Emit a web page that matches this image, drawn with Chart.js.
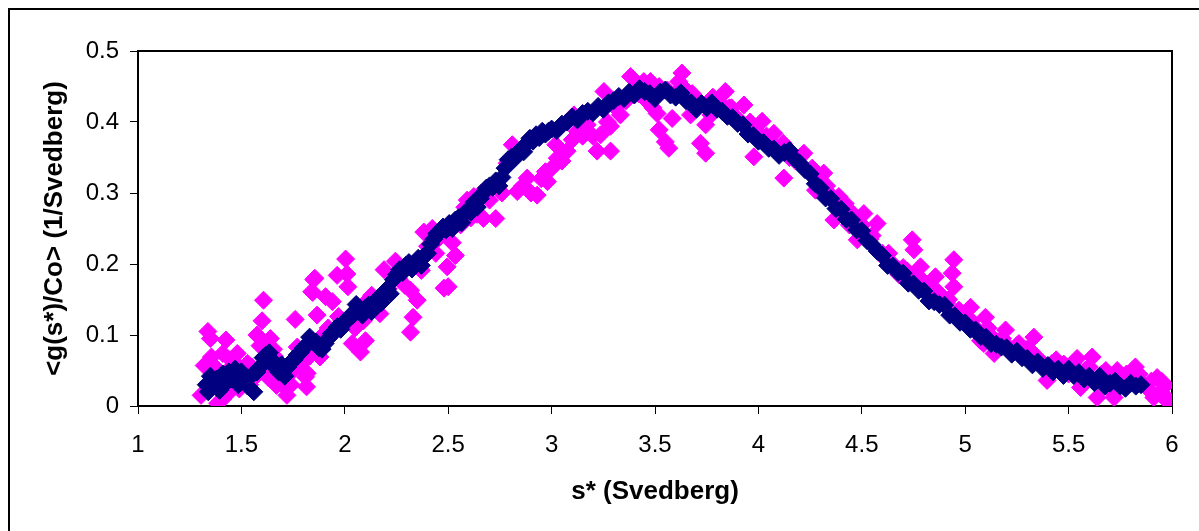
<!DOCTYPE html>
<html>
<head>
<meta charset="utf-8">
<title>g(s*) distribution</title>
<script src="https://cdn.jsdelivr.net/npm/chart.js@4.4.0/dist/chart.umd.min.js"></script>
<style>
    html, body { margin: 0; padding: 0; background: #fff; }
    #chart { display: block; }
</style>
</head>
<body>
<canvas id="chart" width="1199" height="531"></canvas>
<script>
// axis ticks
const xTicks = [1, 1.5, 2, 2.5, 3, 3.5, 4, 4.5, 5, 5.5, 6];
const yTicks = [0, 0.1, 0.2, 0.3, 0.4, 0.5];

// dark blue run
const navyS = [
    1.330, 1.340, 1.350, 1.365, 1.380, 1.395, 1.410, 1.425, 1.440, 1.455, 1.470, 1.485, 1.500, 1.515, 1.530, 1.545,
    1.560, 1.575, 1.590, 1.605, 1.620, 1.635, 1.650, 1.665, 1.680, 1.695, 1.710, 1.725, 1.740, 1.755, 1.770, 1.785,
    1.800, 1.815, 1.830, 1.845, 1.860, 1.875, 1.890, 1.905, 1.920, 1.935, 1.950, 1.965, 1.980, 1.995, 2.010, 2.025,
    2.040, 2.055, 2.070, 2.085, 2.100, 2.115, 2.130, 2.145, 2.160, 2.175, 2.190, 2.205, 2.220, 2.235, 2.250, 2.265,
    2.280, 2.295, 2.310, 2.325, 2.340, 2.355, 2.370, 2.385, 2.400, 2.415, 2.430, 2.445, 2.460, 2.475, 2.490, 2.505,
    2.520, 2.535, 2.550, 2.565, 2.580, 2.595, 2.610, 2.625, 2.640, 2.655, 2.670, 2.685, 2.700, 2.715, 2.730, 2.745,
    2.760, 2.775, 2.790, 2.805, 2.820, 2.835, 2.850, 2.865, 2.880, 2.895, 2.910, 2.925, 2.940, 2.955, 2.970, 2.985,
    3.000, 3.025, 3.050, 3.075, 3.100, 3.125, 3.150, 3.175, 3.200, 3.225, 3.250, 3.275, 3.300, 3.325, 3.350, 3.375,
    3.400, 3.425, 3.450, 3.475, 3.500, 3.525, 3.550, 3.575, 3.600, 3.625, 3.650, 3.675, 3.700, 3.725, 3.750, 3.775,
    3.800, 3.825, 3.850, 3.875, 3.900, 3.925, 3.950, 3.975, 4.000, 4.025, 4.050, 4.075, 4.100, 4.125, 4.150, 4.175,
    4.200, 4.225, 4.250, 4.275, 4.300, 4.325, 4.350, 4.375, 4.400, 4.425, 4.450, 4.475, 4.500, 4.525, 4.550, 4.575,
    4.600, 4.625, 4.650, 4.675, 4.700, 4.725, 4.750, 4.775, 4.800, 4.825, 4.850, 4.875, 4.900, 4.925, 4.950, 4.975,
    5.000, 5.025, 5.050, 5.075, 5.100, 5.125, 5.150, 5.175, 5.200, 5.225, 5.250, 5.275, 5.300, 5.325, 5.350, 5.375,
    5.400, 5.425, 5.450, 5.475, 5.500, 5.525, 5.550, 5.575, 5.600, 5.625, 5.650, 5.675, 5.700, 5.725, 5.750, 5.775,
    5.800, 5.825, 5.850
];
const navyG = [
    0.030, 0.020, 0.042, 0.028, 0.038, 0.022, 0.045, 0.032, 0.048, 0.038, 0.052, 0.030, 0.048, 0.040, 0.028, 0.042,
    0.020, 0.048, 0.055, 0.068, 0.072, 0.075, 0.058, 0.060, 0.048, 0.058, 0.042, 0.055, 0.062, 0.065, 0.072, 0.075,
    0.082, 0.085, 0.097, 0.092, 0.090, 0.082, 0.080, 0.088, 0.095, 0.102, 0.104, 0.112, 0.108, 0.118, 0.120, 0.127,
    0.128, 0.143, 0.135, 0.128, 0.138, 0.142, 0.133, 0.140, 0.152, 0.145, 0.158, 0.165, 0.158, 0.178, 0.185, 0.192,
    0.188, 0.198, 0.202, 0.193, 0.200, 0.208, 0.198, 0.212, 0.215, 0.228, 0.235, 0.243, 0.245, 0.252, 0.248, 0.257,
    0.250, 0.262, 0.265, 0.258, 0.272, 0.275, 0.273, 0.287, 0.280, 0.292, 0.300, 0.307, 0.310, 0.308, 0.317, 0.310,
    0.322, 0.335, 0.347, 0.350, 0.348, 0.357, 0.360, 0.358, 0.370, 0.377, 0.373, 0.382, 0.378, 0.387, 0.383, 0.387,
    0.390, 0.388, 0.397, 0.400, 0.407, 0.403, 0.412, 0.415, 0.413, 0.422, 0.418, 0.427, 0.430, 0.436, 0.433, 0.442,
    0.438, 0.447, 0.443, 0.440, 0.433, 0.442, 0.445, 0.438, 0.435, 0.441, 0.430, 0.427, 0.418, 0.426, 0.420, 0.427,
    0.418, 0.415, 0.408, 0.406, 0.398, 0.396, 0.383, 0.381, 0.373, 0.371, 0.363, 0.362, 0.353, 0.357, 0.360, 0.348,
    0.342, 0.333, 0.327, 0.313, 0.307, 0.293, 0.292, 0.278, 0.277, 0.263, 0.262, 0.248, 0.247, 0.233, 0.227, 0.218,
    0.212, 0.198, 0.197, 0.188, 0.187, 0.173, 0.172, 0.163, 0.162, 0.148, 0.147, 0.143, 0.142, 0.128, 0.127, 0.118,
    0.117, 0.108, 0.107, 0.098, 0.097, 0.088, 0.087, 0.083, 0.082, 0.073, 0.077, 0.068, 0.067, 0.058, 0.062, 0.053,
    0.057, 0.048, 0.052, 0.043, 0.052, 0.043, 0.047, 0.038, 0.042, 0.033, 0.042, 0.028, 0.032, 0.035, 0.028, 0.025,
    0.032, 0.028, 0.030
];

// magenta run
const pinkS = [
    1.305, 1.320, 1.338, 1.350, 1.355, 1.365, 1.375, 1.385, 1.395, 1.410, 1.410, 1.425, 1.435, 1.450, 1.465, 1.480,
    1.480, 1.490, 1.505, 1.520, 1.540, 1.550, 1.575, 1.590, 1.600, 1.607, 1.615, 1.630, 1.640, 1.655, 1.670, 1.690,
    1.705, 1.720, 1.740, 1.760, 1.770, 1.790, 1.810, 1.815, 1.818, 1.830, 1.840, 1.845, 1.850, 1.855, 1.866, 1.880,
    1.895, 1.907, 1.920, 1.940, 1.963, 1.970, 1.985, 2.004, 2.010, 2.015, 2.036, 2.050, 2.076, 2.090, 2.100, 2.115,
    2.130, 2.150, 2.170, 2.190, 2.210, 2.245, 2.260, 2.290, 2.318, 2.318, 2.330, 2.350, 2.370, 2.382, 2.400, 2.423,
    2.440, 2.480, 2.495, 2.500, 2.520, 2.535, 2.560, 2.592, 2.610, 2.624, 2.640, 2.670, 2.700, 2.730, 2.760, 2.785,
    2.810, 2.834, 2.860, 2.882, 2.900, 2.930, 2.950, 2.970, 2.980, 3.000, 3.020, 3.027, 3.050, 3.075, 3.100, 3.108,
    3.124, 3.150, 3.172, 3.200, 3.220, 3.237, 3.253, 3.270, 3.285, 3.285, 3.310, 3.333, 3.360, 3.382, 3.400, 3.420,
    3.446, 3.460, 3.478, 3.490, 3.510, 3.520, 3.550, 3.567, 3.583, 3.600, 3.615, 3.630, 3.650, 3.672, 3.700, 3.720,
    3.745, 3.745, 3.770, 3.800, 3.820, 3.840, 3.870, 3.900, 3.930, 3.950, 3.978, 4.000, 4.018, 4.050, 4.075, 4.100,
    4.123, 4.150, 4.180, 4.220, 4.250, 4.276, 4.300, 4.316, 4.340, 4.365, 4.389, 4.410, 4.440, 4.478, 4.500, 4.510,
    4.540, 4.574, 4.600, 4.620, 4.650, 4.680, 4.700, 4.744, 4.752, 4.784, 4.800, 4.830, 4.856, 4.880, 4.910, 4.937,
    4.945, 4.945, 4.970, 5.000, 5.026, 5.050, 5.074, 5.090, 5.098, 5.120, 5.140, 5.170, 5.195, 5.220, 5.250, 5.280,
    5.316, 5.332, 5.360, 5.396, 5.420, 5.450, 5.477, 5.500, 5.541, 5.558, 5.580, 5.614, 5.638, 5.660, 5.690, 5.720,
    5.735, 5.760, 5.790, 5.823, 5.850, 5.880, 5.912, 5.928, 5.945, 5.960, 5.968, 5.985, 6.000,
    1.450, 1.530, 1.580, 1.660, 1.700, 1.750, 2.450, 2.580, 2.660,
    3.520, 3.560, 3.680, 3.780, 3.860, 3.960, 4.040, 4.120, 4.200, 4.260, 4.330, 4.420, 4.460, 4.550, 4.630, 4.660,
    4.720, 4.770, 4.820, 4.870, 4.920, 5.030, 5.110, 5.180, 5.260, 5.300, 5.340, 5.440, 5.520, 5.600, 5.680, 5.710,
    5.780, 5.840, 5.900, 5.950
];
const pinkG = [
    0.015, 0.057, 0.105, 0.095, 0.069, 0.057, 0.030, 0.004, 0.045, 0.010, 0.074, 0.093, 0.050, 0.022, 0.060, 0.074,
    0.057, 0.024, 0.035, 0.050, 0.030, 0.055, 0.100, 0.085, 0.120, 0.149, 0.060, 0.040, 0.095, 0.080, 0.029, 0.050,
    0.040, 0.015, 0.030, 0.122, 0.083, 0.060, 0.041, 0.027, 0.046, 0.070, 0.161, 0.160, 0.178, 0.180, 0.128, 0.069,
    0.100, 0.154, 0.110, 0.147, 0.184, 0.126, 0.120, 0.207, 0.186, 0.168, 0.088, 0.110, 0.076, 0.120, 0.092, 0.150,
    0.156, 0.140, 0.130, 0.192, 0.165, 0.204, 0.180, 0.170, 0.163, 0.104, 0.125, 0.149, 0.191, 0.245, 0.225, 0.250,
    0.215, 0.166, 0.196, 0.168, 0.230, 0.212, 0.255, 0.290, 0.265, 0.295, 0.270, 0.264, 0.290, 0.264, 0.300, 0.342,
    0.368, 0.302, 0.310, 0.321, 0.300, 0.297, 0.320, 0.330, 0.316, 0.335, 0.368, 0.349, 0.345, 0.359, 0.375, 0.410,
    0.387, 0.380, 0.396, 0.380, 0.359, 0.382, 0.443, 0.400, 0.359, 0.394, 0.420, 0.410, 0.430, 0.464, 0.445, 0.440,
    0.457, 0.430, 0.457, 0.420, 0.412, 0.389, 0.372, 0.363, 0.405, 0.440, 0.457, 0.469, 0.445, 0.410, 0.430, 0.370,
    0.356, 0.396, 0.410, 0.430, 0.425, 0.443, 0.420, 0.405, 0.424, 0.390, 0.351, 0.385, 0.401, 0.375, 0.384, 0.360,
    0.321, 0.350, 0.345, 0.356, 0.330, 0.304, 0.315, 0.328, 0.300, 0.262, 0.295, 0.270, 0.255, 0.234, 0.255, 0.271,
    0.235, 0.257, 0.215, 0.205, 0.200, 0.185, 0.195, 0.234, 0.220, 0.196, 0.175, 0.165, 0.182, 0.150, 0.145, 0.187,
    0.206, 0.168, 0.135, 0.125, 0.139, 0.110, 0.092, 0.088, 0.125, 0.100, 0.074, 0.090, 0.107, 0.080, 0.085, 0.070,
    0.078, 0.097, 0.065, 0.036, 0.060, 0.055, 0.059, 0.045, 0.067, 0.026, 0.050, 0.069, 0.012, 0.045, 0.040, 0.012,
    0.050, 0.030, 0.040, 0.055, 0.035, 0.025, 0.012, 0.040, 0.020, 0.012, 0.029, 0.008, 0.005,
    0.065, 0.060, 0.045, 0.070, 0.030, 0.050, 0.235, 0.280, 0.300,
    0.450, 0.445, 0.440, 0.435, 0.420, 0.400, 0.380, 0.370, 0.350, 0.335, 0.310, 0.285, 0.270, 0.240, 0.215, 0.195,
    0.190, 0.180, 0.170, 0.160, 0.150, 0.120, 0.110, 0.095, 0.088, 0.080, 0.070, 0.065, 0.060, 0.055, 0.050, 0.020,
    0.045, 0.045, 0.035, 0.035
];

const toPoints = (xs, ys) => xs.map((x, i) => ({ x: x, y: ys[i] }));

const FONT = '"Liberation Sans", Arial, sans-serif';

// white page, outer frame and plot box
const framePlugin = {
    id: 'frame',
    beforeDraw(chart) {
        const ctx = chart.ctx;
        ctx.save();
        ctx.fillStyle = '#fff';
        ctx.fillRect(0, 0, chart.width, chart.height);
        ctx.strokeStyle = '#000';
        ctx.lineWidth = 2;
        ctx.strokeRect(9, 9, chart.width + 20, chart.height + 20);
        ctx.restore();
    },
    beforeDatasetsDraw(chart) {
        const { left, top, right, bottom } = chart.chartArea;
        const ctx = chart.ctx;
        ctx.save();
        ctx.strokeStyle = '#000';
        ctx.lineWidth = 2;
        ctx.beginPath();
        ctx.moveTo(left, top);
        ctx.lineTo(right, top);
        ctx.lineTo(right, bottom);
        ctx.stroke();
        ctx.restore();
    }
};

const axisTicks = (values) => (scale) => {
    scale.ticks = values.map(v => ({ value: v }));
};

const markerStyle = (color) => ({
    pointStyle: 'rectRot',
    pointRadius: 9,
    borderWidth: 1,
    backgroundColor: color,
    borderColor: color
});

new Chart(document.getElementById('chart'), {
    type: 'scatter',
    data: {
        datasets: [
            Object.assign({ label: 'navy', data: toPoints(navyS, navyG) }, markerStyle('#000080')),
            Object.assign({ label: 'magenta', data: toPoints(pinkS, pinkG) }, markerStyle('#FF00FF'))
        ]
    },
    options: {
        responsive: false,
        animation: false,
        devicePixelRatio: 1,
        layout: { padding: { top: 51, right: 27, bottom: 0, left: 0 } },
        plugins: {
            legend: { display: false },
            tooltip: { enabled: false }
        },
        scales: {
            x: {
                type: 'linear',
                min: 1,
                max: 6,
                afterBuildTicks: axisTicks(xTicks),
                afterFit: (scale) => { scale.height = 125; },
                grid: { drawOnChartArea: false, drawTicks: true, tickLength: 8, color: '#000', lineWidth: 1 },
                border: { display: true, color: '#000', width: 2 },
                ticks: {
                    color: '#000',
                    padding: 17,
                    maxRotation: 0,
                    font: { family: FONT, size: 24 },
                    callback: (v) => String(v)
                },
                title: {
                    display: true,
                    text: 's* (Svedberg)',
                    color: '#000',
                    font: { family: FONT, size: 26, weight: 'bold' },
                    padding: { top: 0, bottom: 24 }
                }
            },
            y: {
                type: 'linear',
                min: 0,
                max: 0.5,
                afterBuildTicks: axisTicks(yTicks),
                afterFit: (scale) => { scale.width = 138; },
                grid: { drawOnChartArea: false, drawTicks: true, tickLength: 8, color: '#000', lineWidth: 1 },
                border: { display: true, color: '#000', width: 2 },
                ticks: {
                    color: '#000',
                    padding: 11,
                    font: { family: FONT, size: 24 },
                    callback: (v) => String(v)
                },
                title: {
                    display: true,
                    text: '<g(s*)/Co> (1/Svedberg)',
                    color: '#000',
                    font: { family: FONT, size: 26, weight: 'bold' },
                    padding: { top: 39, bottom: 0 }
                }
            }
        }
    },
    plugins: [framePlugin]
});
</script>
</body>
</html>
